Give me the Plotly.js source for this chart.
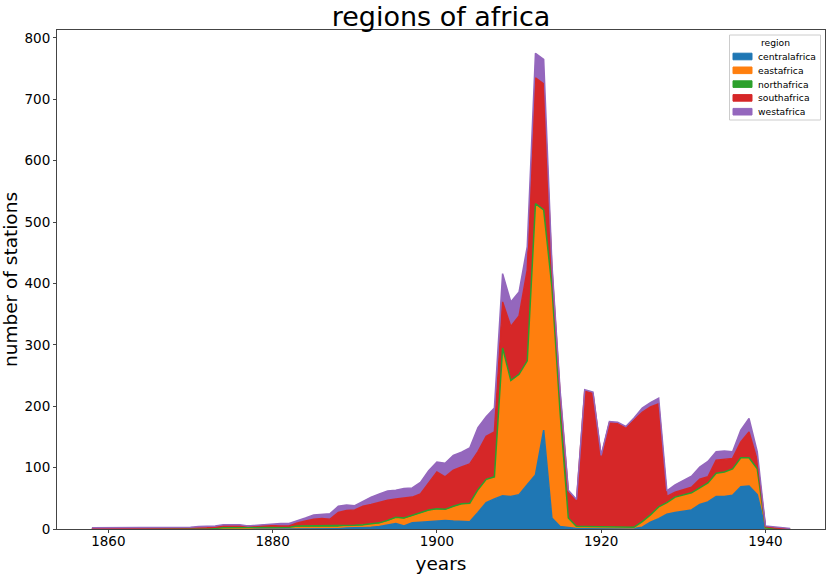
<!DOCTYPE html>
<html>
<head>
<meta charset="utf-8">
<script src="https://cdn.plot.ly/plotly-3.0.1.min.js"></script>
<style>html,body{margin:0;padding:0;background:#fff}</style>
</head>
<body>
<div id="chart" style="width:829px;height:574px"></div>
<script>
// 1858 - 1943, one value per year
var years = [1858,1859,1860,1861,1862,1863,1864,1865,1866,1867,1868,1869,
    1870,1871,1872,1873,1874,1875,1876,1877,1878,1879,
    1880,1881,1882,1883,1884,1885,1886,1887,1888,1889,
    1890,1891,1892,1893,1894,1895,1896,1897,1898,1899,
    1900,1901,1902,1903,1904,1905,1906,1907,1908,1909,
    1910,1911,1912,1913,1914,1915,1916,1917,1918,1919,
    1920,1921,1922,1923,1924,1925,1926,1927,1928,1929,
    1930,1931,1932,1933,1934,1935,1936,1937,1938,1939,
    1940,1941,1942,1943];

var centralafrica = [0,0,0,0,0,0,0,0,0,0,0,0,
    0,0,0,0,0,0,0,0,1,1,
    1,1,1,1,1,2,2,2,2,2,
    2,3,3,4,6,9,5,10,11,12,
    14,14,13,13,12,27,43,49,54,53,
    56,72,88,161,18,4,2,1,1,1,
    0,0,0,0,1,3,11,17,24,27,
    29,31,40,44,53,53,55,69,70,56,
    1,0,0,0];

var eastafrica = [0,0,0,0,0,0,0,0,0,0,0,0,
    0,0,0,0,1,1,1,1,1,1,
    1,1,1,2,2,1,1,1,1,2,
    2,2,4,4,6,8,11,10,14,17,
    17,16,22,26,28,35,36,34,239,187,
    194,200,440,357,375,184,14,2,2,2,
    2,2,2,2,1,8,11,18,18,24,
    25,27,26,30,37,39,42,46,45,41,
    1,0,0,0];

var northafrica = [0,0,0,0,0,0,0,0,0,0,0,0,
    0,0,0,1,1,1,1,1,1,1,
    1,1,1,2,2,2,2,2,2,2,
    2,2,2,2,2,2,2,2,2,2,
    2,2,2,2,2,2,2,2,2,2,
    2,2,2,2,2,2,2,1,1,1,
    1,1,1,1,1,1,1,1,1,1,
    1,1,1,1,1,1,1,1,1,1,
    0,0,0,0];

var southafrica = [1,1,1,1,1,1,1,1,1,1,1,1,
    2,2,2,2,3,3,3,2,2,3,
    2,2,2,5,8,11,12,11,22,24,
    25,30,31,34,33,30,32,30,30,44,
    60,53,59,60,64,62,70,73,75,88,
    95,148,205,205,30,30,42,42,221,217,
    115,170,169,162,175,178,176,168,10,8,
    9,9,14,10,21,20,17,26,42,14,
    2,2,1,0];

var westafrica = [1,1,1,1,1,1,1,1,1,1,1,1,
    1,2,2,2,2,2,2,1,1,2,
    4,4,4,3,5,7,7,9,10,9,
    7,8,12,13,15,14,16,15,19,20,
    16,22,24,24,26,39,32,39,46,40,
    39,38,40,40,7,6,3,2,2,2,
    2,2,2,2,3,7,7,9,9,12,
    15,18,20,25,14,14,11,19,22,14,
    1,2,1,1];

var regionNames = ['centralafrica', 'eastafrica', 'northafrica', 'southafrica', 'westafrica'];
var regionValues = [centralafrica, eastafrica, northafrica, southafrica, westafrica];
var regionColors = ['#1f77b4', '#ff7f0e', '#2ca02c', '#d62728', '#9467bd'];

var data = [];
regionNames.forEach(function (name, i) {
    data.push({
        x: years,
        y: regionValues[i],
        name: name,
        type: 'scatter',
        mode: 'lines',
        stackgroup: 'one',
        line: {color: regionColors[i], width: 1.5},
        fillcolor: regionColors[i]
    });
});

// plotly's legend rows can't go under 19px, so the compact legend box is shapes + annotations
var plotLeft = 57, plotTop = 30, plotW = 768, plotH = 499;
function paperX(px) { return (px - plotLeft) / plotW; }
function paperY(py) { return 1 - (py - plotTop) / plotH; }

var shapes = [{
    type: 'rect', xref: 'paper', yref: 'paper',
    x0: paperX(729.5), x1: paperX(820.5), y0: paperY(120), y1: paperY(35),
    fillcolor: 'rgba(255,255,255,0.8)',
    line: {color: '#cccccc', width: 1}
}];
var annotations = [{
    text: 'region', xref: 'paper', yref: 'paper',
    x: paperX(775), y: paperY(42.5), xanchor: 'center', yanchor: 'middle',
    showarrow: false, font: {size: 9.2}
}];
regionNames.forEach(function (name, i) {
    var rowY = 56.5 + i * 13.8;
    shapes.push({
        type: 'rect', xref: 'paper', yref: 'paper',
        x0: paperX(733), x1: paperX(752), y0: paperY(rowY + 3.3), y1: paperY(rowY - 3.3),
        fillcolor: regionColors[i],
        line: {color: regionColors[i], width: 1}
    });
    annotations.push({
        text: name, xref: 'paper', yref: 'paper',
        x: paperX(758), y: paperY(rowY), xanchor: 'left', yanchor: 'middle',
        xshift: -2, showarrow: false, font: {size: 9.2}
    });
});

var layout = {
    width: 829,
    height: 574,
    plot_bgcolor: 'white',
    paper_bgcolor: 'white',
    font: {family: 'DejaVu Sans', color: 'black'},
    title: {
        text: 'regions of africa',
        font: {size: 27},
        x: 0.5,
        xref: 'paper',
        xanchor: 'center',
        y: 0.971,
        yanchor: 'middle'
    },
    margin: {l: 57, r: 4, t: 30, b: 45},
    showlegend: false,
    shapes: shapes,
    annotations: annotations,
    xaxis: {
        range: [1853.75, 1947.25],
        tickmode: 'array',
        tickvals: [1860, 1880, 1900, 1920, 1940],
        ticks: 'outside',
        ticklen: 3,
        tickwidth: 1,
        tickcolor: '#444444',
        tickfont: {size: 13.5},
        ticklabelstandoff: -3,
        showgrid: false,
        zeroline: false,
        showline: true,
        mirror: true,
        linecolor: '#444444',
        linewidth: 1,
        title: {text: 'years', font: {size: 18.5}}
    },
    yaxis: {
        range: [0, 813],
        tickmode: 'array',
        tickvals: [0, 100, 200, 300, 400, 500, 600, 700, 800],
        ticks: 'outside',
        ticklen: 3,
        tickwidth: 1,
        tickcolor: '#444444',
        tickfont: {size: 13.5},
        showgrid: false,
        zeroline: false,
        showline: true,
        mirror: true,
        linecolor: '#444444',
        linewidth: 1,
        title: {text: 'number of stations', font: {size: 18.5}}
    }
};

Plotly.newPlot('chart', data, layout, {displayModeBar: false});
</script>
</body>
</html>
